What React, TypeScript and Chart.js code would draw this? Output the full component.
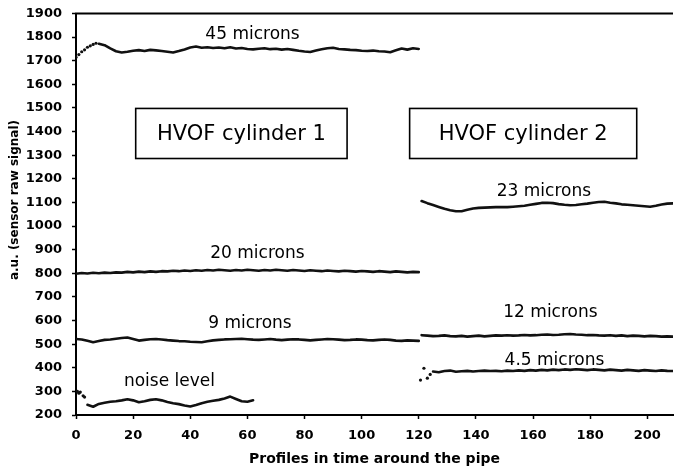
import { useEffect, useRef } from 'react';
import { Chart, registerables } from 'chart.js';

Chart.register(...registerables);

// ---- Data ----
// Cylinder 1 profiles (step 2)
const xCyl1 = [0, 2, 4, 6, 8, 10, 12, 14, 16, 18, 20, 22, 24, 26, 28, 30, 32, 34, 36, 38, 40, 42, 44, 46, 48, 50, 52, 54, 56, 58, 60, 62, 64, 66, 68, 70, 72, 74, 76, 78, 80, 82, 84, 86, 88, 90, 92, 94, 96, 98, 100, 102, 104, 106, 108, 110, 112, 114, 116, 118, 120];
// 45 microns (line part, x = 8..120)
const x45 = [8, 10, 12, 14, 16, 18, 20, 22, 24, 26, 28, 30, 32, 34, 36, 38, 40, 42, 44, 46, 48, 50, 52, 54, 56, 58, 60, 62, 64, 66, 68, 70, 72, 74, 76, 78, 80, 82, 84, 86, 88, 90, 92, 94, 96, 98, 100, 102, 104, 106, 108, 110, 112, 114, 116, 118, 120];
const y45 = [1772, 1766, 1752, 1740, 1735, 1738, 1742, 1745, 1741, 1746, 1744, 1741, 1738, 1735, 1741, 1748, 1756, 1760, 1755, 1757, 1754, 1756, 1753, 1757, 1752, 1754, 1750, 1748, 1751, 1753, 1749, 1751, 1747, 1750, 1746, 1742, 1739, 1737, 1743, 1749, 1753, 1755, 1750, 1748, 1746, 1745, 1742, 1741, 1743, 1740, 1739, 1736, 1744, 1752, 1747, 1753, 1750];
// 45 microns initial scattered points
const x45Lead = [0, 1, 2, 3, 4, 5, 6, 7];
const y45Lead = [1715, 1726, 1738, 1746, 1757, 1763, 1769, 1774];
// 20 microns
const y20 = [798, 801, 799, 802, 800, 803, 801, 804, 803, 806, 804, 807, 805, 808, 806, 809, 808, 811, 809, 812, 810, 813, 811, 814, 812, 815, 813, 811, 814, 812, 815, 813, 811, 814, 812, 815, 813, 811, 814, 812, 810, 813, 811, 809, 812, 810, 808, 811, 809, 807, 810, 808, 806, 809, 807, 805, 808, 806, 804, 806, 805];
// 9 microns
const y9 = [522, 520, 514, 508, 513, 518, 520, 523, 526, 528, 522, 515, 518, 521, 522, 520, 517, 515, 513, 512, 510, 509, 508, 512, 516, 518, 520, 521, 522, 523, 521, 519, 518, 520, 522, 519, 517, 519, 521, 520, 518, 516, 518, 520, 522, 521, 519, 517, 518, 520, 519, 517, 516, 518, 520, 518, 515, 514, 516, 515, 514];
// noise level
const xNoise = [4, 6, 8, 10, 12, 14, 16, 18, 20, 22, 24, 26, 28, 30, 32, 34, 36, 38, 40, 42, 44, 46, 48, 50, 52, 54, 56, 58, 60, 62];
const yNoise = [243, 235, 247, 252, 256, 258, 262, 267, 262, 254, 258, 264, 267, 262, 255, 250, 246, 240, 236, 242, 250, 256, 260, 264, 270, 278, 268, 258, 256, 262];
const xNoiseLead = [0.5, 1, 1.5, 2.5, 3];
const yNoiseLead = [300, 292, 297, 281, 276];

// Cylinder 2 profiles (odd, step 2)
const xCyl2 = [121, 123, 125, 127, 129, 131, 133, 135, 137, 139, 141, 143, 145, 147, 149, 151, 153, 155, 157, 159, 161, 163, 165, 167, 169, 171, 173, 175, 177, 179, 181, 183, 185, 187, 189, 191, 193, 195, 197, 199, 201, 203, 205, 207, 209];
const y23 = [1106, 1097, 1089, 1081, 1073, 1067, 1063, 1063, 1069, 1074, 1077, 1078, 1079, 1080, 1081, 1080, 1082, 1084, 1086, 1090, 1094, 1098, 1099, 1097, 1093, 1090, 1088, 1089, 1092, 1095, 1099, 1102, 1103, 1099, 1096, 1092, 1090, 1088, 1086, 1084, 1082, 1086, 1091, 1095, 1096];
const y12 = [538, 536, 534, 535, 537, 534, 533, 535, 532, 534, 536, 533, 535, 537, 536, 538, 536, 537, 539, 537, 538, 540, 541, 539, 540, 542, 543, 541, 540, 538, 539, 537, 536, 538, 535, 537, 534, 536, 535, 533, 535, 534, 532, 533, 532];
// 4.5 microns (line part, x = 125..209)
const x4_5 = [125, 127, 129, 131, 133, 135, 137, 139, 141, 143, 145, 147, 149, 151, 153, 155, 157, 159, 161, 163, 165, 167, 169, 171, 173, 175, 177, 179, 181, 183, 185, 187, 189, 191, 193, 195, 197, 199, 201, 203, 205, 207, 209];
const y4_5 = [384, 381, 386, 388, 383, 385, 387, 384, 386, 388, 386, 387, 385, 388, 386, 389, 387, 390, 388, 391, 389, 392, 390, 393, 391, 394, 392, 390, 393, 391, 389, 392, 390, 388, 391, 389, 387, 390, 388, 386, 389, 387, 386];
const x4_5Lead = [120.6, 121.8, 123, 124];
const y4_5Lead = [348, 398, 356, 372];

// Axis ticks
const yTickMin = 200;
const yTickMax = 1900;
const yTickStep = 100;
const xTickMin = 0;
const xTickMax = 209;
const xTickStep = 20;

// Text annotations
const seriesLabels = ['45 microns', '20 microns', '9 microns', 'noise level', '23 microns', '12 microns', '4.5 microns'];
const labelAnchors = [
  { x: 61.8, y: 1809 },
  { x: 63.5, y: 882 },
  { x: 60.9, y: 588 },
  { x: 32.7, y: 341 },
  { x: 163.8, y: 1146 },
  { x: 166.1, y: 633 },
  { x: 167.5, y: 429 },
];
const boxTexts = ['HVOF cylinder 1', 'HVOF cylinder 2'];
const boxAnchors = [
  { x0: 20.9, x1: 94.9, y0: 1498, y1: 1286 },
  { x0: 116.8, x1: 196.3, y0: 1498, y1: 1286 },
];

const FONT = '"DejaVu Sans", "Liberation Sans", Arial, sans-serif';
const INK = '#000';

const pts = (xs: number[], ys: number[]) => xs.map((x, i) => ({ x, y: ys[i] }));

const lineDs = (data: { x: number; y: number }[]) => ({
  data,
  showLine: true,
  borderColor: '#111',
  borderWidth: 2.6,
  pointRadius: 0,
  tension: 0,
  borderJoinStyle: 'round' as const,
  borderCapStyle: 'round' as const,
});
const dotDs = (data: { x: number; y: number }[]) => ({
  data,
  showLine: false,
  pointRadius: 1.6,
  pointBackgroundColor: '#111',
  pointBorderWidth: 0,
});

const decorPlugin = {
  id: 'decor',
  afterDraw(chart: any) {
    const { ctx, chartArea, scales } = chart;
    const xs = scales.x;
    const ys = scales.y;
    ctx.save();
    // top frame line
    ctx.strokeStyle = INK;
    ctx.lineWidth = 2;
    ctx.beginPath();
    ctx.moveTo(chartArea.left - 1, chartArea.top);
    ctx.lineTo(chartArea.right, chartArea.top);
    ctx.stroke();

    // series labels
    ctx.fillStyle = INK;
    ctx.textAlign = 'center';
    ctx.textBaseline = 'middle';
    ctx.font = `17px ${FONT}`;
    seriesLabels.forEach((t, i) => {
      const a = labelAnchors[i];
      ctx.fillText(t, xs.getPixelForValue(a.x), ys.getPixelForValue(a.y));
    });

    // boxes
    ctx.font = `21px ${FONT}`;
    ctx.lineWidth = 1.6;
    boxTexts.forEach((t, i) => {
      const b = boxAnchors[i];
      const l = xs.getPixelForValue(b.x0);
      const r = xs.getPixelForValue(b.x1);
      const tp = ys.getPixelForValue(b.y0);
      const bt = ys.getPixelForValue(b.y1);
      ctx.fillStyle = '#fff';
      ctx.fillRect(l, tp, r - l, bt - tp);
      ctx.strokeRect(l, tp, r - l, bt - tp);
      ctx.fillStyle = INK;
      ctx.fillText(t, (l + r) / 2, (tp + bt) / 2 + 1);
    });

    // y-axis title
    ctx.save();
    ctx.translate(15, 200);
    ctx.rotate(-Math.PI / 2);
    ctx.font = `bold 12px ${FONT}`;
    ctx.fillText('a.u. (sensor raw signal)', 0, 0);
    ctx.restore();
    ctx.restore();
  },
};

export default function App() {
  const ref = useRef<HTMLCanvasElement | null>(null);
  useEffect(() => {
    if (!ref.current) return;
    const chart = new Chart(ref.current, {
      type: 'scatter',
      data: {
        datasets: [
          lineDs(pts(x45, y45)),
          dotDs(pts(x45Lead, y45Lead)),
          lineDs(pts(xCyl1, y20)),
          lineDs(pts(xCyl1, y9)),
          lineDs(pts(xNoise, yNoise)),
          dotDs(pts(xNoiseLead, yNoiseLead)),
          lineDs(pts(xCyl2, y23)),
          lineDs(pts(xCyl2, y12)),
          lineDs(pts(x4_5, y4_5)),
          dotDs(pts(x4_5Lead, y4_5Lead)),
        ],
      },
      options: {
        animation: false,
        responsive: false,
        devicePixelRatio: 1,
        layout: { padding: { top: 13.5, left: 0, right: 0, bottom: 0 } },
        plugins: { legend: { display: false }, tooltip: { enabled: false } },
        scales: {
          x: {
            type: 'linear',
            min: xTickMin,
            max: xTickMax,
            afterFit: (s: any) => { s.height = 54; },
            ticks: {
              stepSize: xTickStep,
              includeBounds: false,
              color: INK,
              padding: 9,
              maxRotation: 0,
              callback: (v: any) => String(v),
              font: { family: FONT, size: 13, weight: 'bold' },
            },
            grid: { drawOnChartArea: false, drawTicks: true, tickLength: 4, tickWidth: 1.5, tickColor: INK },
            border: { display: true, color: INK, width: 2 },
            title: {
              display: true,
              text: 'Profiles in time around the pipe',
              color: INK,
              font: { family: FONT, size: 14, weight: 'bold' },
              padding: { top: 0, bottom: 1 },
            },
          },
          y: {
            type: 'linear',
            min: yTickMin,
            max: yTickMax,
            afterFit: (s: any) => {
              s.width = 76;
              s.paddingTop = 0;
              s.paddingBottom = 0;
            },
            ticks: {
              stepSize: yTickStep,
              color: INK,
              padding: 10,
              callback: (v: any) => String(v),
              font: { family: FONT, size: 13, weight: 'bold' },
            },
            grid: { drawOnChartArea: false, drawTicks: true, tickLength: 4, tickWidth: 1.5, tickColor: INK },
            border: { display: true, color: INK, width: 2 },
          },
        },
      },
      plugins: [decorPlugin],
    } as any);
    return () => chart.destroy();
  }, []);
  return (
    <div style={{ position: 'fixed', left: 0, top: 0, width: 677, height: 469, background: '#fff' }}>
      <canvas ref={ref} width={677} height={469} style={{ display: 'block', width: 677, height: 469 }} />
    </div>
  );
}
